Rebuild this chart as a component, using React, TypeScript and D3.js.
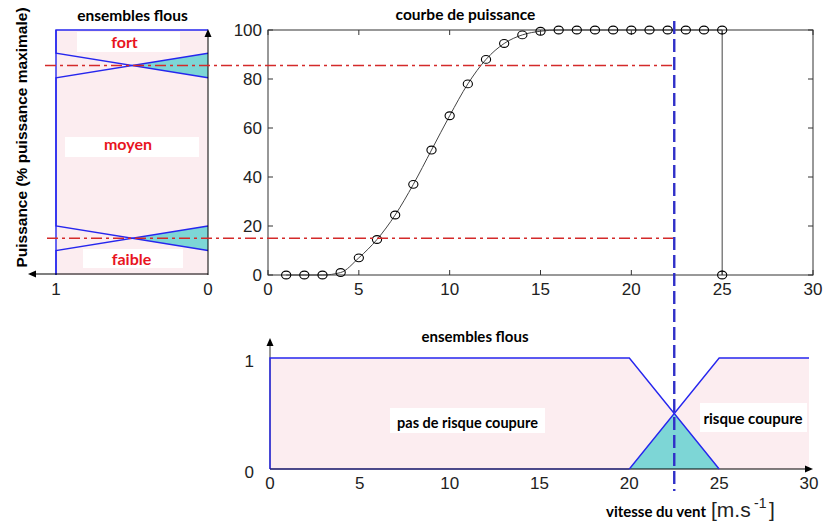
import React from 'react'
import * as d3 from 'd3'

// courbe de puissance : vitesse du vent (m/s) -> puissance (% puissance maximale)
const windSpeeds = [1, 2, 3, 4, 5, 6, 7, 8, 9, 10, 11, 12, 13, 14, 15, 16, 17, 18, 19, 20, 21, 22, 23, 24, 25]
const powerPercent = [0, 0, 0, 1, 7, 14.5, 24.5, 37, 51, 65, 78, 88, 94.5, 98, 99.5, 100, 100, 100, 100, 100, 100, 100, 100, 100, 100]
const cutOffSpeed = 25
const cutOffPower = 0
const currentWind = 22.5

const powerTicks = [0, 20, 40, 60, 80, 100]
const windTicks = [0, 5, 10, 15, 20, 25, 30]
const memberTicks = [1, 0]

// ensembles flous de la puissance : [puissance, appartenance]
const faibleSet = [[0, 1], [10, 1], [20, 0]]
const moyenSet = [[10, 0], [20, 1], [80.5, 1], [90.5, 0]]
const fortSet = [[80.5, 0], [90.5, 1], [100, 1], [100, 0]]
const lowOverlap = [[10, 0], [15, 0.5], [20, 0]]
const highOverlap = [[80.5, 0], [85.5, 0.5], [90.5, 0]]
const thresholdLow = 15
const thresholdHigh = 85.5

// ensembles flous du vent : [vitesse, appartenance]
const noRiskSet = [[0, 0], [0, 1], [20, 1], [25, 0]]
const riskSet = [[20, 0], [25, 1], [30, 1]]
const windEnvelope = [[0, 0], [0, 1], [20, 1], [22.5, 0.5], [25, 1], [30, 1], [30, 0]]
const windOverlap = [[20, 0], [22.5, 0.5], [25, 0]]

const BLUE = '#2626ee'
const PINK = '#fcedf0'
const TEAL = '#7dd6d6'
const RED = '#d42a2a'
const AXIS = '#333'
const titleFont = 'Lato, "Open Sans", sans-serif'
const tickFont = '"Liberation Sans", Arial, sans-serif'

export default function App() {
  // top chart
  const xT = d3.scaleLinear().domain([0, 30]).range([268, 813])
  const yP = d3.scaleLinear().domain([0, 100]).range([275, 30])
  // left panel, membership axis reversed
  const mu = d3.scaleLinear().domain([0, 1]).range([208, 56])
  // bottom chart
  const xB = d3.scaleLinear().domain([0, 30]).range([270, 809])
  const yB = d3.scaleLinear().domain([0, 1]).range([469, 358])

  const leftLine = d3.line<number[]>().x(d => mu(d[1])).y(d => yP(d[0]))
  const bottomLine = d3.line<number[]>().x(d => xB(d[0])).y(d => yB(d[1]))
  const powerLine = d3.line<number>()
    .x((d, i) => xT(windSpeeds[i]))
    .y(d => yP(d))
    .curve(d3.curveMonotoneX)

  const redEnd = xT(22.3)
  const dashX = xB(currentWind)

  const arrowUp = (x: number, y: number) => `M${x},${y} L${x - 3.5},${y + 8} L${x + 3.5},${y + 8} Z`
  const arrowLeft = (x: number, y: number) => `M${x},${y} L${x + 8},${y - 3.5} L${x + 8},${y + 3.5} Z`
  const arrowRight = (x: number, y: number) => `M${x},${y} L${x - 8},${y - 3.5} L${x - 8},${y + 3.5} Z`

  const [t0, t1] = [30, 275]
  const [r0, r1] = [268, 813]

  return (
    <svg width={823} height={524} style={{ position: 'absolute', left: 0, top: 0, background: '#fff' }}>
      {/* ---------- left panel: ensembles flous puissance ---------- */}
      <rect x={mu(1)} y={yP(100)} width={mu(0) - mu(1)} height={yP(0) - yP(100)} fill={PINK} />
      <path d={leftLine(lowOverlap) + 'Z'} fill={TEAL} />
      <path d={leftLine(highOverlap) + 'Z'} fill={TEAL} />
      <rect x={77} y={32} width={103} height={20} fill="#fff" />
      <rect x={65} y={137} width={134} height={20} fill="#fff" />
      <rect x={83} y={249} width={100} height={19} fill="#fff" />
      {[faibleSet, moyenSet, fortSet].map((s, i) => (
        <path key={i} d={leftLine(s) ?? ''} fill="none" stroke={BLUE} strokeWidth={1.4} />
      ))}
      <line x1={mu(1)} x2={mu(1)} y1={yP(100)} y2={yP(0)} stroke={BLUE} strokeWidth={1.4} />
      <line x1={mu(0)} x2={mu(0)} y1={yP(0)} y2={yP(100) + 2} stroke="#000" strokeWidth={1} />
      <path d={arrowUp(mu(0), yP(100) - 1)} fill="#000" />
      <line x1={mu(0)} x2={30} y1={yP(0) - 1} y2={yP(0) - 1} stroke="#000" strokeWidth={1.2} />
      <path d={arrowLeft(28, yP(0) - 1)} fill="#000" />
      {memberTicks.map(t => (
        <text key={t} x={mu(t)} y={295} textAnchor="middle" fontFamily={tickFont} fontSize={17} fill="#222">{t}</text>
      ))}
      <text x={124.5} y={48} textAnchor="middle" fontFamily={titleFont} fontWeight="bold" fontSize={16} fill="#e8141e">fort</text>
      <text x={128} y={150} textAnchor="middle" fontFamily={titleFont} fontWeight="bold" fontSize={16} fill="#e8141e">moyen</text>
      <text x={131.5} y={265} textAnchor="middle" fontFamily={titleFont} fontWeight="bold" fontSize={16} fill="#e8141e">faible</text>
      <text x={132.5} y={21} textAnchor="middle" fontFamily={titleFont} fontWeight="bold" fontSize={15.5} fill="#000">ensembles flous</text>
      <text transform="translate(21.5,137.5) rotate(-90)" textAnchor="middle" dominantBaseline="central"
        fontFamily={tickFont} fontWeight="bold" fontSize={15.5} fill="#000">Puissance (% puissance maximale)</text>

      {/* ---------- top chart: courbe de puissance ---------- */}
      <rect x={r0} y={t0} width={r1 - r0} height={t1 - t0} fill="none" stroke={AXIS} strokeWidth={1} />
      {windTicks.map(t => (
        <g key={'xt' + t}>
          <line x1={xT(t)} x2={xT(t)} y1={t1} y2={t1 - 5} stroke={AXIS} />
          <line x1={xT(t)} x2={xT(t)} y1={t0} y2={t0 + 5} stroke={AXIS} />
          <text x={xT(t)} y={295} textAnchor="middle" fontFamily={tickFont} fontSize={17} fill="#222">{t}</text>
        </g>
      ))}
      {powerTicks.map(t => (
        <g key={'yt' + t}>
          <line x1={r0} x2={r0 + 5} y1={yP(t)} y2={yP(t)} stroke={AXIS} />
          <line x1={r1} x2={r1 - 5} y1={yP(t)} y2={yP(t)} stroke={AXIS} />
          <text x={262} y={yP(t) + 6} textAnchor="end" fontFamily={tickFont} fontSize={17} fill="#222">{t}</text>
        </g>
      ))}
      <path d={powerLine(powerPercent) ?? ''} fill="none" stroke="#444" strokeWidth={1} />
      <line x1={xT(cutOffSpeed)} x2={xT(cutOffSpeed)} y1={yP(powerPercent[powerPercent.length - 1])} y2={yP(cutOffPower)}
        stroke="#444" strokeWidth={1} />
      {powerPercent.map((p, i) => (
        <ellipse key={i} cx={xT(windSpeeds[i])} cy={yP(p)} rx={4.6} ry={3.9} fill="none" stroke="#000" strokeWidth={1.1} />
      ))}
      <ellipse cx={xT(cutOffSpeed)} cy={yP(cutOffPower)} rx={4.6} ry={3.9} fill="none" stroke="#000" strokeWidth={1.1} />
      <text x={465.5} y={20} textAnchor="middle" fontFamily={titleFont} fontWeight="bold" fontSize={15.5} fill="#000">courbe de puissance</text>

      {/* thresholds */}
      <line x1={45} x2={redEnd} y1={yP(thresholdHigh)} y2={yP(thresholdHigh)} stroke={RED} strokeWidth={1.4} strokeDasharray="11,4,3,4" />
      <line x1={47} x2={redEnd} y1={yP(thresholdLow)} y2={yP(thresholdLow)} stroke={RED} strokeWidth={1.4} strokeDasharray="11,4,3,4" />

      {/* ---------- bottom chart: ensembles flous vent ---------- */}
      <path d={bottomLine(windEnvelope) + 'Z'} fill={PINK} />
      <path d={bottomLine(windOverlap) + 'Z'} fill={TEAL} />
      <rect x={390} y={408} width={155} height={25} fill="#fff" />
      <rect x={700} y={403} width={107} height={29} fill="#fff" />
      <line x1={xB(0)} x2={xB(0)} y1={yB(0)} y2={342} stroke="#333" strokeWidth={1} />
      <path d={arrowUp(xB(0), 338)} fill="#000" />
      <line x1={xB(0)} x2={808} y1={yB(0)} y2={yB(0)} stroke="#000" strokeWidth={1.2} />
      <path d={arrowRight(813, yB(0))} fill="#000" />
      <path d={bottomLine(noRiskSet) ?? ''} fill="none" stroke={BLUE} strokeWidth={1.4} />
      <path d={bottomLine(riskSet) ?? ''} fill="none" stroke={BLUE} strokeWidth={1.4} />
      <line x1={xB(0)} x2={xB(20)} y1={yB(0)} y2={yB(0)} stroke="#1a1a99" strokeWidth={1.2} />
      {windTicks.map(t => (
        <text key={'bt' + t} x={xB(t)} y={489} textAnchor="middle" fontFamily={tickFont} fontSize={17} fill="#222">{t}</text>
      ))}
      {[1, 0].map(t => (
        <text key={'by' + t} x={254} y={yB(t) + 8.5} textAnchor="end" fontFamily={tickFont} fontSize={17} fill="#222">{t}</text>
      ))}
      <text x={475} y={342} textAnchor="middle" fontFamily={titleFont} fontWeight="bold" fontSize={15} fill="#000">ensembles flous</text>
      <text x={467.5} y={428} textAnchor="middle" fontFamily={titleFont} fontWeight="bold" fontSize={14.5} fill="#000">pas de risque coupure</text>
      <text x={753} y={424} textAnchor="middle" fontFamily={titleFont} fontWeight="bold" fontSize={15} fill="#000">risque coupure</text>
      <text x={656} y={517} textAnchor="middle" fontFamily={titleFont} fontWeight="bold" fontSize={15} fill="#000">vitesse du vent</text>
      <text x={711} y={517} fontFamily={tickFont} fontSize={21} fill="#222">[m.s</text>
      <text x={754} y={508} fontFamily={tickFont} fontSize={14} fill="#222">-1</text>
      <text x={769} y={517} fontFamily={tickFont} fontSize={21} fill="#222">]</text>

      {/* current wind speed */}
      <line x1={dashX} x2={dashX} y1={21} y2={491} stroke="#3030c8" strokeWidth={2.4} strokeDasharray="13,5" />
    </svg>
  )
}
